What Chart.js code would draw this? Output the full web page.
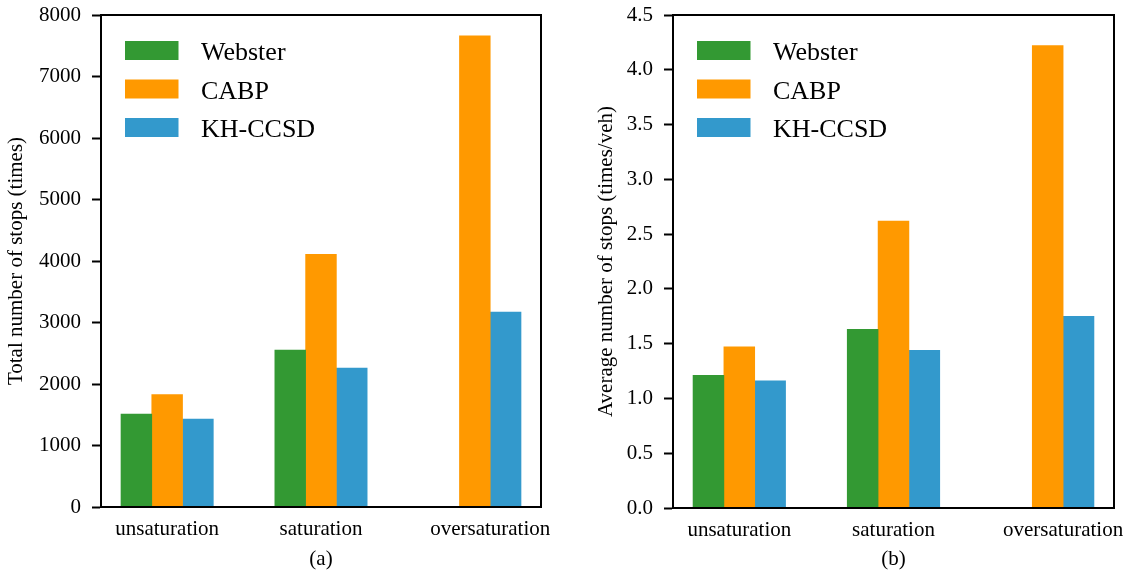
<!DOCTYPE html>
<html><head><meta charset="utf-8">
<script src="https://cdn.jsdelivr.net/npm/chart.js@4/dist/chart.umd.min.js"></script>
<style>
html,body{margin:0;padding:0;background:#fff;}
#wrap{position:relative;width:1131px;height:574px;overflow:hidden;}
#ca{position:absolute;left:0;top:0;}
#cb{position:absolute;left:565px;top:0;}
</style></head><body>
<div id="wrap"><canvas id="ca" width="565" height="574"></canvas><canvas id="cb" width="566" height="574"></canvas></div>
<script>
// ---- data ----
const categories = ['unsaturation', 'saturation', 'oversaturation'];
const seriesNames = ['Webster', 'CABP', 'KH-CCSD'];
const totalWebster = [1510, 2550, null];
const totalCABP    = [1830, 4110, 7660];
const totalKH      = [1430, 2260, 3170];
const avgWebster = [1.21, 1.63, null];
const avgCABP    = [1.47, 2.62, 4.22];
const avgKH      = [1.16, 1.44, 1.75];
const totalTicks = [0, 1000, 2000, 3000, 4000, 5000, 6000, 7000, 8000];
const avgTicks = [0, 0.5, 1.0, 1.5, 2.0, 2.5, 3.0, 3.5, 4.0, 4.5];

// ---- styles ----
const colors = ['#339933', '#ff9900', '#3399cc'];
const FAM = '"Liberation Serif", "Times New Roman", serif';
const BAR_W = 0.2;
Chart.defaults.font.family = FAM;

const frameLegend = {
  id: 'frameLegend',
  afterDatasetsDraw(chart) {
    const {ctx, chartArea: a} = chart;
    ctx.save();
    ctx.strokeStyle = '#000';
    ctx.lineWidth = 2;
    ctx.strokeRect(a.left, a.top, a.right - a.left, a.bottom - a.top);
    ctx.font = '26px ' + FAM;
    ctx.textBaseline = 'alphabetic';
    ctx.textAlign = 'left';
    chart.data.datasets.forEach((ds, i) => {
      const y = a.top + 26 + i * 38.5;
      ctx.fillStyle = ds.backgroundColor;
      ctx.fillRect(a.left + 24, y, 53.5, 19);
      ctx.fillStyle = '#000';
      ctx.fillText(ds.label, a.left + 100, y + 19);
    });
    ctx.restore();
  }
};

function zeroPad(s) { s.paddingTop = 0; s.paddingBottom = 0; s.paddingLeft = 0; s.paddingRight = 0; }

function makeChart(canvas, seriesVals, yTicks, yTitle, xTitle, fmt, lay) {
  const n = categories.length;
  const offs = seriesVals.map((_, s) => (s - (seriesVals.length - 1) / 2) * BAR_W);
  const datasets = seriesVals.map((vals, s) => ({
    label: seriesNames[s],
    backgroundColor: colors[s],
    borderWidth: 0,
    grouped: false,
    barPercentage: 1,
    categoryPercentage: 1,
    data: vals.map((v, i) => ({x: i + offs[s], y: v}))
  }));
  // tick at center of the bars present in each group
  const tickPos = categories.map((_, i) => {
    const xs = [];
    seriesVals.forEach((vals, s) => { if (vals[i] !== null) xs.push(i + offs[s]); });
    return xs.reduce((p, c) => p + c, 0) / xs.length;
  });
  const lo = offs[0] - BAR_W / 2, hi = (n - 1) + offs[offs.length - 1] + BAR_W / 2;
  const pad = 0.05 * (hi - lo);
  return new Chart(canvas, {
    type: 'bar',
    data: {datasets},
    plugins: [frameLegend],
    options: {
      responsive: false,
      animation: false,
      devicePixelRatio: 1,
      layout: {padding: {left: lay.left, right: lay.right, top: 15, bottom: 0}},
      plugins: {legend: {display: false}, tooltip: {enabled: false}},
      scales: {
        x: {
          type: 'linear',
          offset: false,
          min: lo - pad, max: hi + pad,
          afterBuildTicks: s => { s.ticks = tickPos.map(v => ({value: v})); },
          afterFit: s => { s.height = lay.xh; zeroPad(s); },
          grid: {display: false, drawTicks: false, offset: false},
          border: {display: true, color: '#000', width: 2},
          ticks: {color: '#000', font: {family: FAM, size: 21}, padding: 10,
                  autoSkip: false, maxRotation: 0,
                  callback: (v, i) => categories[i]},
          title: {display: true, text: xTitle, color: '#000', font: {family: FAM, size: 21},
                  padding: {top: 0, bottom: 2}}
        },
        y: {
          min: yTicks[0], max: yTicks[yTicks.length - 1],
          afterBuildTicks: s => { s.ticks = yTicks.map(v => ({value: v})); },
          afterFit: s => { s.width = lay.yw; zeroPad(s); },
          grid: {drawOnChartArea: false, drawTicks: true, tickLength: 9, tickWidth: 2, tickColor: '#000'},
          border: {display: true, color: '#000', width: 2},
          ticks: {color: '#000', font: {family: FAM, size: 21}, padding: 11, callback: fmt},
          title: {display: true, text: yTitle, color: '#000', font: {family: FAM, size: 21},
                  padding: {top: 4, bottom: 0}}
        }
      }
    }
  });
}

makeChart(document.getElementById('ca'), [totalWebster, totalCABP, totalKH], totalTicks,
  'Total number of stops (times)', '(a)', v => String(v),
  {left: 0, right: 24, yw: 101, xh: 67});
makeChart(document.getElementById('cb'), [avgWebster, avgCABP, avgKH], avgTicks,
  'Average number of stops (times/veh)', '(b)', v => Number(v).toFixed(1),
  {left: 25, right: 17, yw: 83, xh: 66});
</script>
</body></html>
